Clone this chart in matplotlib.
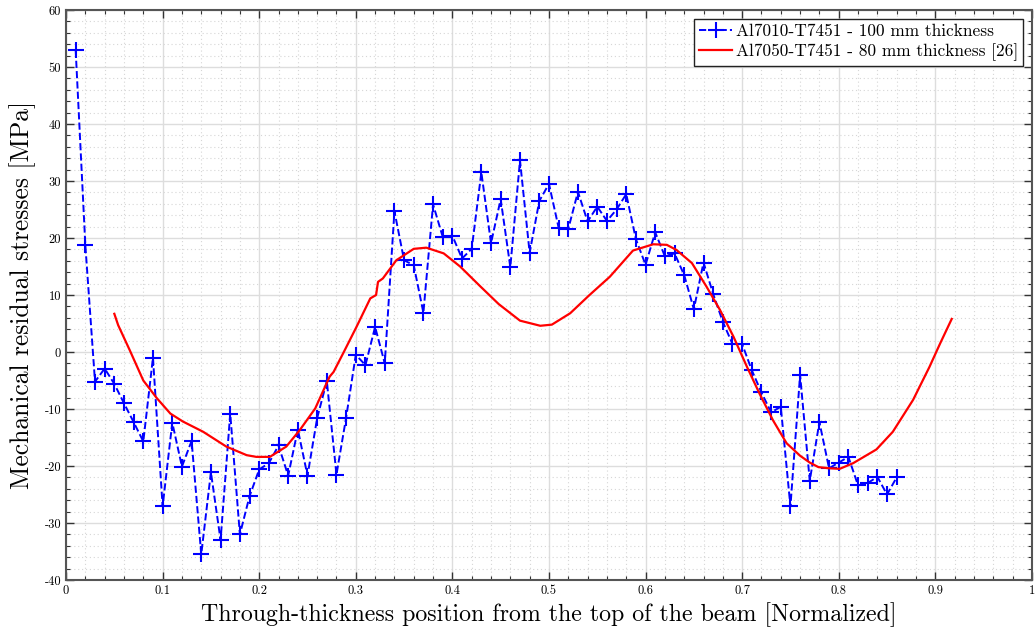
import matplotlib
matplotlib.use("Agg")
import matplotlib.pyplot as plt
import numpy as np
from matplotlib.ticker import MultipleLocator, FuncFormatter

plt.rcParams['font.family'] = ['cmr10', 'DejaVu Serif']
plt.rcParams['axes.unicode_minus'] = False
plt.rcParams['mathtext.fontset'] = 'cm'

# Al7010-T7451 measured points (x = 0.01 ... 0.86)
pos_7010 = np.round(np.arange(1, 87) * 0.01, 2)
stress_7010 = [52.9, 18.7, -5.2, -2.9, -5.6, -9.0, -12.3, -15.7, -1.0, -27.1,
               -12.4, -20.1, -15.6, -35.5, -21.1, -33.0, -10.8, -32.0, -25.3, -20.6,
               -19.5, -16.4, -21.7, -13.6, -21.7, -11.6, -5.1, -21.5, -11.5, -0.5,
               -2.3, 4.4, -2.0, 24.7, 16.1, 15.2, 6.9, 25.9, 20.2, 20.4,
               16.4, 18.1, 31.5, 19.1, 26.8, 14.9, 33.6, 17.4, 26.5, 29.5,
               21.8, 21.6, 28.1, 22.9, 25.5, 23.0, 25.0, 27.7, 19.8, 15.3,
               21.0, 16.8, 17.3, 13.5, 7.5, 15.7, 10.2, 5.3, 1.4, 1.4,
               -3.2, -7.1, -10.6, -9.6, -27.1, -4.0, -22.6, -12.3, -20.4, -19.4,
               -18.4, -23.4, -23.0, -21.9, -25.0, -22.0]

# Al7050-T7451 reference curve [26]
pos_7050 = [0.050, 0.054, 0.066, 0.080, 0.094, 0.108, 0.121, 0.142, 0.166, 0.187,
            0.197, 0.211, 0.228, 0.242, 0.258, 0.273, 0.277, 0.287, 0.301, 0.315,
            0.321, 0.323, 0.328, 0.342, 0.360, 0.373, 0.391, 0.408, 0.429, 0.448,
            0.470, 0.491, 0.503, 0.522, 0.542, 0.563, 0.587, 0.608, 0.622, 0.632,
            0.648, 0.663, 0.677, 0.691, 0.705, 0.718, 0.732, 0.746, 0.760, 0.770,
            0.779, 0.790, 0.801, 0.815, 0.839, 0.856, 0.877, 0.894, 0.905, 0.917]
stress_7050 = [6.7, 4.7, 0.3, -5.0, -8.1, -10.8, -12.2, -14.0, -16.6, -18.1,
               -18.4, -18.4, -16.6, -13.7, -9.9, -4.3, -3.5, -0.2, 4.5, 9.4,
               10.0, 12.3, 12.9, 16.1, 18.1, 18.3, 17.3, 15.0, 11.5, 8.4,
               5.5, 4.6, 4.8, 6.8, 10.0, 13.2, 17.8, 18.9, 18.8, 17.9,
               15.6, 11.5, 7.4, 2.7, -2.6, -7.3, -12.0, -16.0, -18.2, -19.4,
               -20.2, -20.4, -20.5, -19.5, -17.1, -14.0, -8.4, -2.6, 1.5, 5.8]

fig = plt.figure(figsize=(10.35, 6.37), dpi=100)
ax = fig.add_axes([0.0638, 0.0895, 0.9332, 0.8948])

ax.plot(pos_7010, stress_7010, color='#0000ff', linestyle='--', linewidth=1.4,
        marker='+', markersize=11, markeredgewidth=1.5,
        label='Al7010-T7451 - 100 mm thickness')
ax.plot(pos_7050, stress_7050, color='#ff0000', linewidth=1.6,
        label='Al7050-T7451 - 80 mm thickness [26]')

ax.set_xlim(0, 1)
ax.set_ylim(-40, 60)
ax.xaxis.set_major_locator(MultipleLocator(0.1))
ax.xaxis.set_minor_locator(MultipleLocator(0.02))
ax.yaxis.set_major_locator(MultipleLocator(10))
ax.yaxis.set_minor_locator(MultipleLocator(2))
ax.xaxis.set_major_formatter(FuncFormatter(lambda v, p: '%g' % round(v, 2)))
ax.yaxis.set_major_formatter(FuncFormatter(lambda v, p: '%g' % round(v, 2)))

ax.grid(which='major', color='#dddddd', linewidth=1.0, linestyle='-')
ax.grid(which='minor', color='#d6d6d6', linewidth=0.8, linestyle=(0, (1, 2.5)))
ax.set_axisbelow(True)

ax.tick_params(which='both', direction='in', top=True, right=True, labelsize=9,
               color='#333333')
ax.tick_params(which='major', length=6, width=1)
ax.tick_params(which='minor', length=3, width=0.8)
for s in ax.spines.values():
    s.set_color('#555555')
    s.set_linewidth(1.5)

ax.set_xlabel('Through-thickness position from the top of the beam [Normalized]',
              fontsize=17.2, labelpad=4)
ax.set_ylabel('Mechanical residual stresses [MPa]', fontsize=18.4, labelpad=6)

leg = ax.legend(loc='upper right', fontsize=12.5, fancybox=False, framealpha=1,
                edgecolor='#222222', borderpad=0.3, handlelength=1.9,
                handletextpad=0.2, labelspacing=0.25, borderaxespad=0.5)
leg.get_frame().set_linewidth(1.0)

fig.savefig('out.png', dpi=100)
